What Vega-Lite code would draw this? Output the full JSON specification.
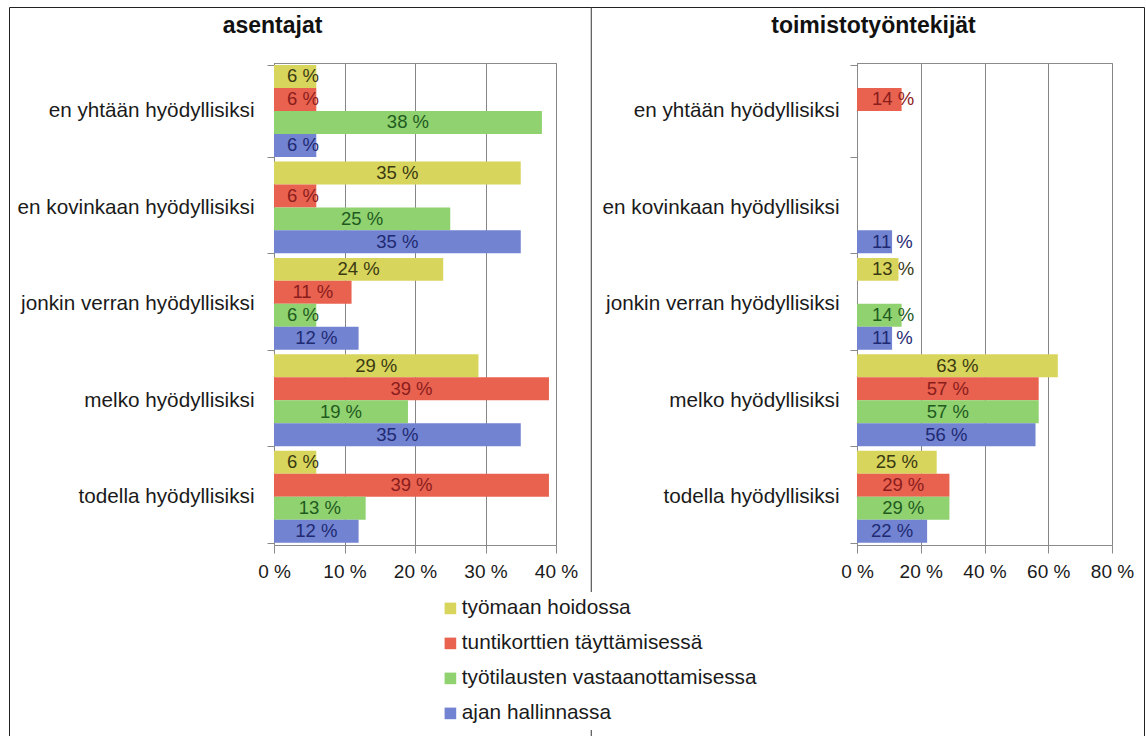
{
  "$schema": "https://vega.github.io/schema/vega-lite/v6.json",
  "width": 1135,
  "height": 740,
  "autosize": "none",
  "padding": {"left": 9, "top": 7, "right": 2, "bottom": 0},
  "background": "white",
  "config": {
    "locale": {
      "number": {"decimal": ",", "thousands": " ", "grouping": [3], "currency": ["", " €"], "percent": " %"}
    },
    "font": "Liberation Sans",
    "view": {"stroke": "#222222", "strokeWidth": 1},
    "axis": {
      "labelFont": "Liberation Sans",
      "titleFont": "Liberation Sans",
      "labelColor": "#1a1a1a",
      "titleColor": "#111111",
      "domainColor": "#8a8a8a",
      "tickColor": "#8a8a8a",
      "gridColor": "#868686",
      "gridOpacity": 1,
      "labelLimit": 400
    }
  },
  "datasets": {
    "answers": [
      {"group": "asentajat", "category": "en yhtään hyödyllisiksi", "series": "työmaan hoidossa", "value": 0.06},
      {"group": "asentajat", "category": "en yhtään hyödyllisiksi", "series": "tuntikorttien täyttämisessä", "value": 0.06},
      {"group": "asentajat", "category": "en yhtään hyödyllisiksi", "series": "työtilausten vastaanottamisessa", "value": 0.38},
      {"group": "asentajat", "category": "en yhtään hyödyllisiksi", "series": "ajan hallinnassa", "value": 0.06},
      {"group": "asentajat", "category": "en kovinkaan hyödyllisiksi", "series": "työmaan hoidossa", "value": 0.35},
      {"group": "asentajat", "category": "en kovinkaan hyödyllisiksi", "series": "tuntikorttien täyttämisessä", "value": 0.06},
      {"group": "asentajat", "category": "en kovinkaan hyödyllisiksi", "series": "työtilausten vastaanottamisessa", "value": 0.25},
      {"group": "asentajat", "category": "en kovinkaan hyödyllisiksi", "series": "ajan hallinnassa", "value": 0.35},
      {"group": "asentajat", "category": "jonkin verran hyödyllisiksi", "series": "työmaan hoidossa", "value": 0.24},
      {"group": "asentajat", "category": "jonkin verran hyödyllisiksi", "series": "tuntikorttien täyttämisessä", "value": 0.11},
      {"group": "asentajat", "category": "jonkin verran hyödyllisiksi", "series": "työtilausten vastaanottamisessa", "value": 0.06},
      {"group": "asentajat", "category": "jonkin verran hyödyllisiksi", "series": "ajan hallinnassa", "value": 0.12},
      {"group": "asentajat", "category": "melko hyödyllisiksi", "series": "työmaan hoidossa", "value": 0.29},
      {"group": "asentajat", "category": "melko hyödyllisiksi", "series": "tuntikorttien täyttämisessä", "value": 0.39},
      {"group": "asentajat", "category": "melko hyödyllisiksi", "series": "työtilausten vastaanottamisessa", "value": 0.19},
      {"group": "asentajat", "category": "melko hyödyllisiksi", "series": "ajan hallinnassa", "value": 0.35},
      {"group": "asentajat", "category": "todella hyödyllisiksi", "series": "työmaan hoidossa", "value": 0.06},
      {"group": "asentajat", "category": "todella hyödyllisiksi", "series": "tuntikorttien täyttämisessä", "value": 0.39},
      {"group": "asentajat", "category": "todella hyödyllisiksi", "series": "työtilausten vastaanottamisessa", "value": 0.13},
      {"group": "asentajat", "category": "todella hyödyllisiksi", "series": "ajan hallinnassa", "value": 0.12},
      {"group": "toimistotyöntekijät", "category": "en yhtään hyödyllisiksi", "series": "tuntikorttien täyttämisessä", "value": 0.14},
      {"group": "toimistotyöntekijät", "category": "en kovinkaan hyödyllisiksi", "series": "ajan hallinnassa", "value": 0.11},
      {"group": "toimistotyöntekijät", "category": "jonkin verran hyödyllisiksi", "series": "työmaan hoidossa", "value": 0.13},
      {"group": "toimistotyöntekijät", "category": "jonkin verran hyödyllisiksi", "series": "työtilausten vastaanottamisessa", "value": 0.14},
      {"group": "toimistotyöntekijät", "category": "jonkin verran hyödyllisiksi", "series": "ajan hallinnassa", "value": 0.11},
      {"group": "toimistotyöntekijät", "category": "melko hyödyllisiksi", "series": "työmaan hoidossa", "value": 0.63},
      {"group": "toimistotyöntekijät", "category": "melko hyödyllisiksi", "series": "tuntikorttien täyttämisessä", "value": 0.57},
      {"group": "toimistotyöntekijät", "category": "melko hyödyllisiksi", "series": "työtilausten vastaanottamisessa", "value": 0.57},
      {"group": "toimistotyöntekijät", "category": "melko hyödyllisiksi", "series": "ajan hallinnassa", "value": 0.56},
      {"group": "toimistotyöntekijät", "category": "todella hyödyllisiksi", "series": "työmaan hoidossa", "value": 0.25},
      {"group": "toimistotyöntekijät", "category": "todella hyödyllisiksi", "series": "tuntikorttien täyttämisessä", "value": 0.29},
      {"group": "toimistotyöntekijät", "category": "todella hyödyllisiksi", "series": "työtilausten vastaanottamisessa", "value": 0.29},
      {"group": "toimistotyöntekijät", "category": "todella hyödyllisiksi", "series": "ajan hallinnassa", "value": 0.22}
    ]
  },
  "layer": [
    {
      "layer": [
        {
          "data": {"name": "answers"},
          "transform": [{"filter": "datum.group === 'asentajat'"}],
          "mark": {"type": "bar"},
          "encoding": {
            "y": {
              "field": "category", "type": "nominal",
              "sort": ["en yhtään hyödyllisiksi", "en kovinkaan hyödyllisiksi", "jonkin verran hyödyllisiksi", "melko hyödyllisiksi", "todella hyödyllisiksi"],
              "scale": {"range": [55.7, 538], "paddingInner": 0.047, "paddingOuter": 0.0235},
              "axis": {"orient": "left", "offset": -265, "title": null, "tickBand": "extent", "tickSize": 7, "labelFontSize": 20.7, "labelPadding": 13, "grid": false}
            },
            "yOffset": {
              "field": "series", "type": "nominal",
              "sort": ["työmaan hoidossa", "tuntikorttien täyttämisessä", "työtilausten vastaanottamisessa", "ajan hallinnassa"],
              "scale": {"domain": ["työmaan hoidossa", "tuntikorttien täyttämisessä", "työtilausten vastaanottamisessa", "ajan hallinnassa"], "paddingInner": 0, "paddingOuter": 0}
            },
            "x": {
              "field": "value", "type": "quantitative",
              "scale": {"domain": [0, 0.4], "range": [265, 547], "nice": false},
              "axis": {"orient": "bottom", "offset": -202, "values": [0, 0.1, 0.2, 0.3, 0.4], "format": ".0%", "title": null, "grid": false, "tickSize": 8, "labelFontSize": 19, "labelPadding": 9, "labelFlush": false, "labelOverlap": false}
            },
            "color": {
              "field": "series", "type": "nominal",
              "scale": {
                "domain": ["työmaan hoidossa", "tuntikorttien täyttämisessä", "työtilausten vastaanottamisessa", "ajan hallinnassa"],
                "range": ["#d8d55c", "#e8624f", "#8fd26f", "#7183d1"]
              },
              "legend": {
                "orient": "none", "legendX": 425, "legendY": 585, "direction": "vertical",
                "title": null, "fillColor": "white", "padding": 6,
                "symbolType": "square", "symbolSize": 135, "symbolStrokeWidth": 0,
                "labelFontSize": 20.8, "labelFont": "Liberation Sans", "labelColor": "#1a1a1a",
                "labelOffset": 1, "rowPadding": 13, "labelLimit": 500
              }
            }
          }
        },
        {
          "data": {"name": "answers"},
          "transform": [{"filter": "datum.group === 'asentajat' && datum.value >= 0.1"}],
          "mark": {"type": "text", "fontSize": 18.5, "baseline": "middle", "align": "center"},
          "encoding": {
            "y": {
              "field": "category", "type": "nominal",
              "sort": ["en yhtään hyödyllisiksi", "en kovinkaan hyödyllisiksi", "jonkin verran hyödyllisiksi", "melko hyödyllisiksi", "todella hyödyllisiksi"]
            },
            "yOffset": {
              "field": "series", "type": "nominal",
              "sort": ["työmaan hoidossa", "tuntikorttien täyttämisessä", "työtilausten vastaanottamisessa", "ajan hallinnassa"]
            },
            "x": {
              "field": "value", "type": "quantitative",
              "scale": {"domain": [0, 0.8], "range": [265, 547], "nice": false},
              "axis": {"orient": "top", "offset": -56, "values": [0, 0.2, 0.4, 0.6, 0.8], "labels": false, "ticks": false, "grid": true, "title": "asentajat", "titleFontSize": 23, "titleFontWeight": "bold", "titleX": 263, "titleY": -31, "titleBaseline": "alphabetic", "titleAlign": "center"}
            },
            "text": {"field": "value", "type": "quantitative", "format": ".0%"},
            "fill": {
              "field": "series", "type": "nominal",
              "scale": {
                "domain": ["työmaan hoidossa", "tuntikorttien täyttämisessä", "työtilausten vastaanottamisessa", "ajan hallinnassa"],
                "range": ["#3a3a12", "#8a1c1c", "#1f5a1f", "#1f2a72"]
              },
              "legend": null
            }
          }
        },
        {
          "data": {"name": "answers"},
          "transform": [{"filter": "datum.group === 'asentajat' && datum.value < 0.1"}],
          "mark": {"type": "text", "fontSize": 18.5, "baseline": "middle", "align": "left", "dx": 13},
          "encoding": {
            "y": {
              "field": "category", "type": "nominal",
              "sort": ["en yhtään hyödyllisiksi", "en kovinkaan hyödyllisiksi", "jonkin verran hyödyllisiksi", "melko hyödyllisiksi", "todella hyödyllisiksi"]
            },
            "yOffset": {
              "field": "series", "type": "nominal",
              "sort": ["työmaan hoidossa", "tuntikorttien täyttämisessä", "työtilausten vastaanottamisessa", "ajan hallinnassa"]
            },
            "x": {"datum": 0, "type": "quantitative", "scale": {"domain": [0, 0.4], "range": [265, 547], "nice": false}, "axis": null},
            "text": {"field": "value", "type": "quantitative", "format": ".0%"},
            "fill": {"field": "series", "type": "nominal", "legend": null}
          }
        },
        {
          "data": {"values": [{}]},
          "mark": {"type": "rule", "color": "#333333", "strokeWidth": 1},
          "encoding": {
            "x": {"datum": 0.45, "type": "quantitative", "scale": {"domain": [0, 0.4], "range": [265, 547], "nice": false}, "axis": null}
          }
        }
      ],
      "resolve": {"scale": {"x": "independent"}, "axis": {"x": "independent"}}
    },
    {
      "layer": [
        {
          "data": {"name": "answers"},
          "transform": [{"filter": "datum.group === 'toimistotyöntekijät'"}],
          "mark": {"type": "bar"},
          "encoding": {
            "y": {
              "field": "category", "type": "nominal",
              "sort": ["en yhtään hyödyllisiksi", "en kovinkaan hyödyllisiksi", "jonkin verran hyödyllisiksi", "melko hyödyllisiksi", "todella hyödyllisiksi"],
              "scale": {"domain": ["en yhtään hyödyllisiksi", "en kovinkaan hyödyllisiksi", "jonkin verran hyödyllisiksi", "melko hyödyllisiksi", "todella hyödyllisiksi"], "range": [55.7, 538], "paddingInner": 0.047, "paddingOuter": 0.0235},
              "axis": {"orient": "left", "offset": -848, "title": null, "tickBand": "extent", "tickSize": 7, "labelFontSize": 20.7, "labelPadding": 11, "grid": false}
            },
            "yOffset": {
              "field": "series", "type": "nominal",
              "sort": ["työmaan hoidossa", "tuntikorttien täyttämisessä", "työtilausten vastaanottamisessa", "ajan hallinnassa"],
              "scale": {"domain": ["työmaan hoidossa", "tuntikorttien täyttämisessä", "työtilausten vastaanottamisessa", "ajan hallinnassa"], "paddingInner": 0, "paddingOuter": 0}
            },
            "x": {
              "field": "value", "type": "quantitative",
              "scale": {"domain": [0, 0.8], "range": [848, 1103], "nice": false},
              "axis": {"orient": "bottom", "offset": -202, "values": [0, 0.2, 0.4, 0.6, 0.8], "format": ".0%", "title": null, "grid": false, "tickSize": 8, "labelFontSize": 19, "labelPadding": 9, "labelFlush": false, "labelOverlap": false}
            },
            "color": {"field": "series", "type": "nominal"}
          }
        },
        {
          "data": {"name": "answers"},
          "transform": [{"filter": "datum.group === 'toimistotyöntekijät' && datum.value >= 0.2"}],
          "mark": {"type": "text", "fontSize": 18.5, "baseline": "middle", "align": "center"},
          "encoding": {
            "y": {
              "field": "category", "type": "nominal",
              "sort": ["en yhtään hyödyllisiksi", "en kovinkaan hyödyllisiksi", "jonkin verran hyödyllisiksi", "melko hyödyllisiksi", "todella hyödyllisiksi"]
            },
            "yOffset": {
              "field": "series", "type": "nominal",
              "sort": ["työmaan hoidossa", "tuntikorttien täyttämisessä", "työtilausten vastaanottamisessa", "ajan hallinnassa"]
            },
            "x": {
              "field": "value", "type": "quantitative",
              "scale": {"domain": [0, 1.6], "range": [848, 1103], "nice": false},
              "axis": {"orient": "top", "offset": -56, "values": [0, 0.4, 0.8, 1.2, 1.6], "labels": false, "ticks": false, "grid": true, "title": "toimistotyöntekijät", "titleFontSize": 23, "titleFontWeight": "bold", "titleX": 864, "titleY": -31, "titleBaseline": "alphabetic", "titleAlign": "center"}
            },
            "text": {"field": "value", "type": "quantitative", "format": ".0%"},
            "fill": {"field": "series", "type": "nominal", "legend": null}
          }
        },
        {
          "data": {"name": "answers"},
          "transform": [{"filter": "datum.group === 'toimistotyöntekijät' && datum.value < 0.2"}],
          "mark": {"type": "text", "fontSize": 18.5, "baseline": "middle", "align": "left", "dx": 15},
          "encoding": {
            "y": {
              "field": "category", "type": "nominal",
              "sort": ["en yhtään hyödyllisiksi", "en kovinkaan hyödyllisiksi", "jonkin verran hyödyllisiksi", "melko hyödyllisiksi", "todella hyödyllisiksi"]
            },
            "yOffset": {
              "field": "series", "type": "nominal",
              "sort": ["työmaan hoidossa", "tuntikorttien täyttämisessä", "työtilausten vastaanottamisessa", "ajan hallinnassa"]
            },
            "x": {"datum": 0, "type": "quantitative", "scale": {"domain": [0, 0.8], "range": [848, 1103], "nice": false}, "axis": null},
            "text": {"field": "value", "type": "quantitative", "format": ".0%"},
            "fill": {"field": "series", "type": "nominal", "legend": null}
          }
        }
      ],
      "resolve": {"scale": {"x": "independent"}, "axis": {"x": "independent"}}
    }
  ],
  "resolve": {
    "scale": {"x": "independent", "y": "independent", "yOffset": "independent"},
    "axis": {"x": "independent", "y": "independent"}
  }
}
